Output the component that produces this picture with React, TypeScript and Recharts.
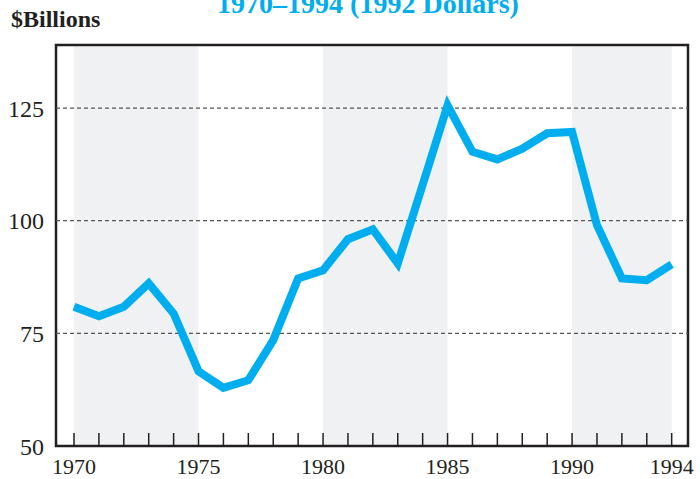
import React from "react";
import { LineChart, Line, XAxis, YAxis, ReferenceArea, ReferenceLine } from "recharts";

const years = [1970, 1971, 1972, 1973, 1974, 1975, 1976, 1977, 1978, 1979, 1980, 1981, 1982, 1983, 1984, 1985, 1986, 1987, 1988, 1989, 1990, 1991, 1992, 1993, 1994];
const values = [80.9, 78.8, 80.9, 86.1, 79.4, 66.6, 62.9, 64.6, 73.5, 87.2, 89.0, 95.9, 98.1, 90.5, 108.0, 125.6, 115.3, 113.6, 116.0, 119.4, 119.7, 99.0, 87.2, 86.8, 90.3];
const labeledYears = [1970, 1975, 1980, 1985, 1990, 1994];
const yTicks = [50, 75, 100, 125];
const gridValues = [75, 100, 125];
const bands: [number, number][] = [[1970, 1975], [1980, 1985], [1990, 1994]];
const titleText = "1970\u20131994 (1992 Dollars)";
const unitText = "$Billions";

const data = years.map((y, i) => ({ year: y, value: values[i] }));

const X_MIN = 1969.277;
const X_MAX = 1994.655;
const Y_MIN = 50;
const Y_MAX = 139;

const INK = "#231f20";
const BLUE = "#00aeef";
const SERIF = "'Liberation Serif', 'Times New Roman', serif";

const XTick = (props: any) => {
  const { x, y, payload } = props;
  const yr = payload.value;
  return (
    <g>
      <line x1={x} x2={x} y1={y} y2={y - 13} stroke={INK} strokeWidth={1.5} />
      {labeledYears.includes(yr) && (
        <text x={x} y={y + 28} textAnchor="middle" fontSize={22} fontFamily={SERIF} fill={INK}>
          {yr}
        </text>
      )}
    </g>
  );
};

export default function App() {
  return (
    <div style={{ position: "absolute", left: 0, top: 0, width: 700, height: 479, background: "#fff" }}>
      <LineChart width={700} height={479} data={data} margin={{ top: 45, right: 12, bottom: 0, left: 0 }}>
        <XAxis
          type="number"
          dataKey="year"
          domain={[X_MIN, X_MAX]}
          ticks={years}
          interval={0}
          allowDataOverflow
          axisLine={false}
          tickLine={false}
          tickSize={0}
          tickMargin={0}
          height={33}
          tick={<XTick />}
        />
        <YAxis
          type="number"
          domain={[Y_MIN, Y_MAX]}
          ticks={yTicks}
          allowDataOverflow
          axisLine={false}
          tickLine={false}
          tickSize={0}
          tickMargin={12}
          width={56}
          tick={{ fontSize: 24, fontFamily: SERIF, fill: INK }}
        />
        {bands.map(([a, b]) => (
          <ReferenceArea key={a} x1={a} x2={b} y1={Y_MIN} y2={Y_MAX - 0.4} fill="#f0f1f3" fillOpacity={1} stroke="none" />
        ))}
        {gridValues.map((v) => (
          <ReferenceLine key={v} y={v} stroke="#555" strokeWidth={1.2} strokeDasharray="4 3" />
        ))}
        <ReferenceArea x1={X_MIN} x2={X_MAX} y1={Y_MIN} y2={Y_MAX} fill="none" stroke={INK} strokeWidth={2.5} />
        <Line
          type="linear"
          dataKey="value"
          stroke={BLUE}
          strokeWidth={8}
          dot={false}
          activeDot={false}
          isAnimationActive={false}
          strokeLinejoin="miter"
        />
      </LineChart>
      <svg width={700} height={479} style={{ position: "absolute", left: 0, top: 0, pointerEvents: "none" }}>
        <text x={368} y={12.7} textAnchor="middle" fontSize={28} fontWeight="bold" fontFamily={SERIF} fill={BLUE}>
          {titleText}
        </text>
        <text x={11} y={27} fontSize={24} fontWeight="bold" fontFamily={SERIF} fill={INK}>
          {unitText}
        </text>
      </svg>
    </div>
  );
}
